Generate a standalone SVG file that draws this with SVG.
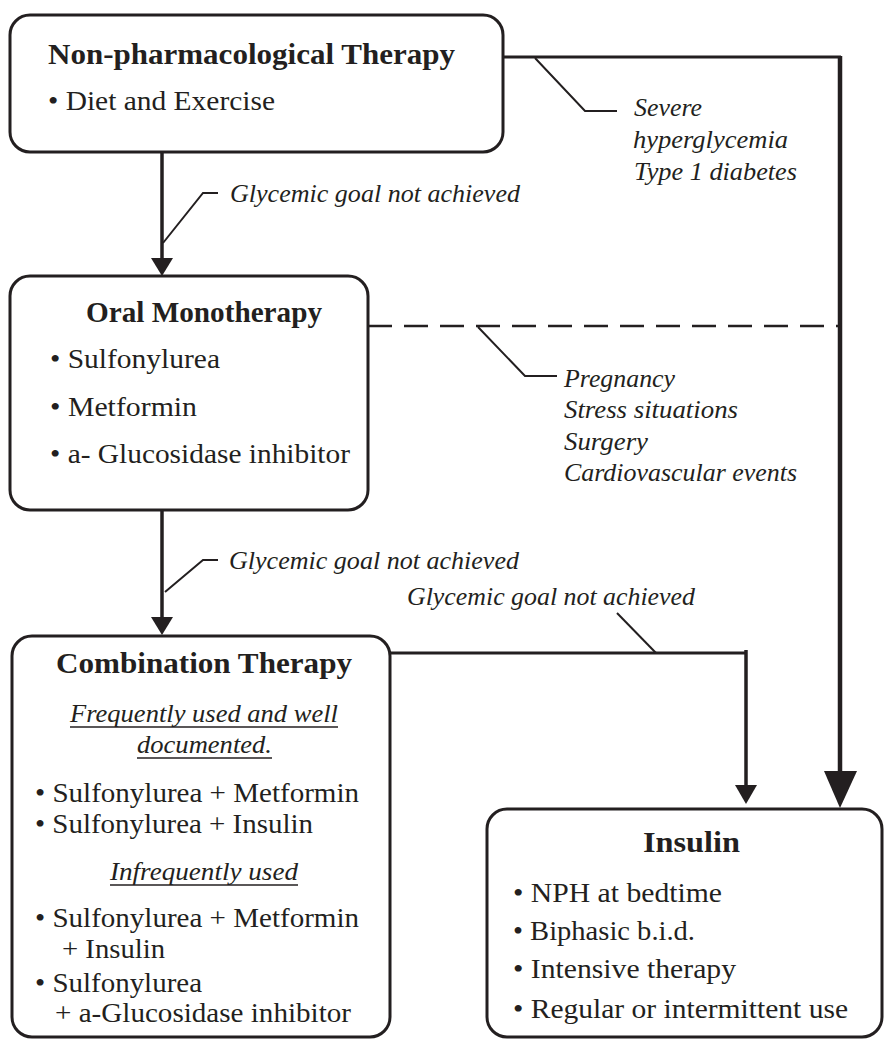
<svg xmlns="http://www.w3.org/2000/svg" width="888" height="1041" viewBox="0 0 888 1041">
<style>
.box{fill:#fff;stroke:#231f20;stroke-width:3}
.t{font-family:"Liberation Serif","Times New Roman",serif;fill:#231f20}
.b{font-weight:bold;font-size:30px}
.r{font-size:28px}
.i{font-style:italic;font-size:26px}
.ln{fill:none;stroke:#231f20;stroke-linecap:butt}
.ah{fill:#231f20;stroke:none}
.ul{stroke:#231f20;stroke-width:1.3}
</style>
<rect width="888" height="1041" fill="#fff"/>
<g id="connectors">
  <!-- top path to insulin -->
  <path class="ln" d="M503 57 H841" stroke-width="3"/>
  <path class="ln" d="M840 56 V776" stroke-width="4.5"/>
  <path class="ah" d="M824 771 L857 771 L840 808 Z"/>
  <path class="ln" d="M535 58 L585 111 H617" stroke-width="2"/>
  <!-- arrow 1 -->
  <path class="ln" d="M162 152 V262" stroke-width="3.5"/>
  <path class="ah" d="M151 258 L173 258 L162 276 Z"/>
  <path class="ln" d="M163 243 L203 193 H218" stroke-width="2"/>
  <!-- dashed -->
  <path class="ln" d="M368 326 H840" stroke-width="2.5" stroke-dasharray="24 12"/>
  <path class="ln" d="M478 327 L525 376 H557" stroke-width="2"/>
  <!-- arrow 2 -->
  <path class="ln" d="M162 510 V622" stroke-width="3.5"/>
  <path class="ah" d="M151 617 L173 617 L162 635 Z"/>
  <path class="ln" d="M165 592 L203 560 H218" stroke-width="2"/>
  <!-- arrow 3 -->
  <path class="ln" d="M390 653 H747" stroke-width="3"/>
  <path class="ln" d="M746 650 V790" stroke-width="3.5"/>
  <path class="ah" d="M735 785 L757 785 L746 804 Z"/>
  <path class="ln" d="M617 613 L656 653" stroke-width="2"/>
</g>
<g id="label-severe" class="t i">
  <text x="634" y="116" textLength="68" lengthAdjust="spacingAndGlyphs">Severe</text>
  <text x="633" y="148" textLength="155" lengthAdjust="spacingAndGlyphs">hyperglycemia</text>
  <text x="634" y="180" textLength="163" lengthAdjust="spacingAndGlyphs">Type 1 diabetes</text>
</g>
<g id="label-goal1" class="t i">
  <text x="230" y="202" textLength="290" lengthAdjust="spacingAndGlyphs">Glycemic goal not achieved</text>
</g>
<g id="label-pregnancy" class="t i">
  <text x="564" y="387" textLength="111" lengthAdjust="spacingAndGlyphs">Pregnancy</text>
  <text x="564" y="418" textLength="174" lengthAdjust="spacingAndGlyphs">Stress situations</text>
  <text x="564" y="450" textLength="84" lengthAdjust="spacingAndGlyphs">Surgery</text>
  <text x="564" y="481" textLength="233" lengthAdjust="spacingAndGlyphs">Cardiovascular events</text>
</g>
<g id="label-goal2" class="t i">
  <text x="229" y="569" textLength="290" lengthAdjust="spacingAndGlyphs">Glycemic goal not achieved</text>
</g>
<g id="label-goal3" class="t i">
  <text x="407" y="605" textLength="288" lengthAdjust="spacingAndGlyphs">Glycemic goal not achieved</text>
</g>
<g id="node-nonpharm">
  <rect class="box" x="10" y="15" width="493" height="137" rx="20"/>
  <text class="t b" x="48" y="64" textLength="407" lengthAdjust="spacingAndGlyphs">Non-pharmacological Therapy</text>
  <text class="t r" x="48" y="110" textLength="227" lengthAdjust="spacingAndGlyphs">• Diet and Exercise</text>
</g>
<g id="node-oral">
  <rect class="box" x="10" y="276" width="358" height="234" rx="20"/>
  <text class="t b" x="86" y="322" textLength="236" lengthAdjust="spacingAndGlyphs">Oral Monotherapy</text>
  <text class="t r" x="50" y="368" textLength="170" lengthAdjust="spacingAndGlyphs">• Sulfonylurea</text>
  <text class="t r" x="50" y="416" textLength="147" lengthAdjust="spacingAndGlyphs">• Metformin</text>
  <text class="t r" x="50" y="463" textLength="300" lengthAdjust="spacingAndGlyphs">• a- Glucosidase inhibitor</text>
</g>
<g id="node-combination">
  <rect class="box" x="12" y="636" width="378" height="401" rx="20"/>
  <text class="t b" x="56" y="673" textLength="296" lengthAdjust="spacingAndGlyphs">Combination Therapy</text>
  <text class="t i" x="70" y="722" textLength="268" lengthAdjust="spacingAndGlyphs">Frequently used and well</text>
  <line class="ul" x1="70" y1="727" x2="338" y2="727"/>
  <text class="t i" x="137" y="753" textLength="135" lengthAdjust="spacingAndGlyphs">documented.</text>
  <line class="ul" x1="137" y1="758" x2="272" y2="758"/>
  <text class="t r" x="35" y="802" textLength="324" lengthAdjust="spacingAndGlyphs">• Sulfonylurea + Metformin</text>
  <text class="t r" x="35" y="833" textLength="278" lengthAdjust="spacingAndGlyphs">• Sulfonylurea + Insulin</text>
  <text class="t i" x="110" y="880" textLength="188" lengthAdjust="spacingAndGlyphs">Infrequently used</text>
  <line class="ul" x1="110" y1="885" x2="298" y2="885"/>
  <text class="t r" x="35" y="927" textLength="324" lengthAdjust="spacingAndGlyphs">• Sulfonylurea + Metformin</text>
  <text class="t r" x="62" y="958" textLength="103" lengthAdjust="spacingAndGlyphs">+ Insulin</text>
  <text class="t r" x="35" y="992" textLength="167" lengthAdjust="spacingAndGlyphs">• Sulfonylurea</text>
  <text class="t r" x="55" y="1022" textLength="296" lengthAdjust="spacingAndGlyphs">+ a-Glucosidase inhibitor</text>
</g>
<g id="node-insulin">
  <rect class="box" x="487" y="809" width="395" height="228" rx="20"/>
  <text class="t b" x="643" y="852" textLength="97" lengthAdjust="spacingAndGlyphs">Insulin</text>
  <text class="t r" x="513" y="902" textLength="209" lengthAdjust="spacingAndGlyphs">• NPH at bedtime</text>
  <text class="t r" x="513" y="940" textLength="182" lengthAdjust="spacingAndGlyphs">• Biphasic b.i.d.</text>
  <text class="t r" x="513" y="978" textLength="223" lengthAdjust="spacingAndGlyphs">• Intensive therapy</text>
  <text class="t r" x="513" y="1018" textLength="335" lengthAdjust="spacingAndGlyphs">• Regular or intermittent use</text>
</g>
</svg>
